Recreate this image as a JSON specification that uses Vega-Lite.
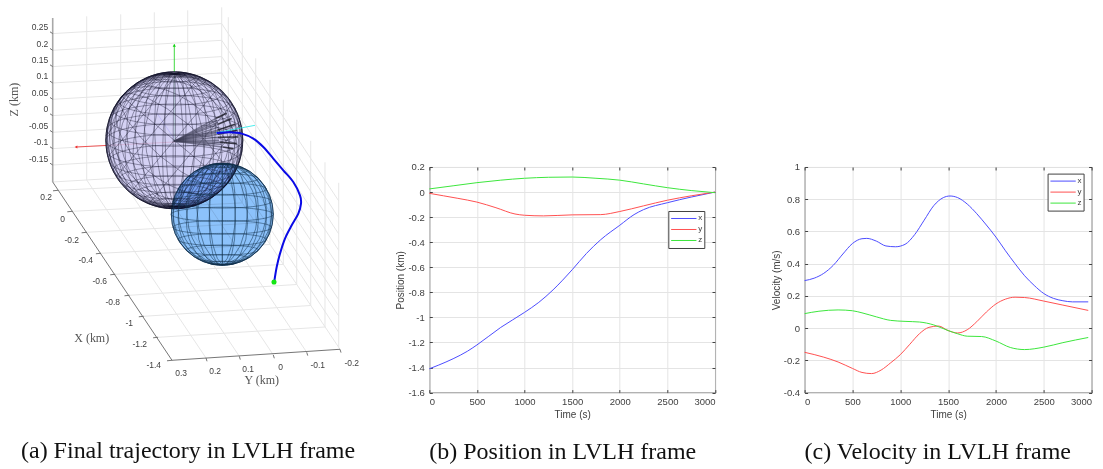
{
"$schema":"https://vega.github.io/schema/vega-lite/v6.json",
"padding":0,
"background":"white",
"bounds":"flush",
"spacing":89.3,
"resolve":{"scale":{"color":"independent"},"legend":{"color":"independent"}},
"config":{"view":{"stroke":null},"font":"Liberation Sans",
 "axis":{"grid":true,"gridColor":"#e4e4e4","gridWidth":1,"domain":false,"tickColor":"#404040","tickSize":-3,"labelFont":"Liberation Sans","labelFontSize":9.5,"labelColor":"#404040","labelPadding":7,"titleFont":"Liberation Sans","titleFontSize":10,"titleColor":"#404040","titleFontWeight":"normal"}},
"datasets":{
"position":[
{"t":0,"s":"x","v":-1.41},{"t":100,"s":"x","v":-1.38},{"t":250,"s":"x","v":-1.33},{"t":400,"s":"x","v":-1.27},{"t":500,"s":"x","v":-1.22},{"t":750,"s":"x","v":-1.08},{"t":1000,"s":"x","v":-0.96},{"t":1150,"s":"x","v":-0.88},{"t":1300,"s":"x","v":-0.78},{"t":1500,"s":"x","v":-0.62},{"t":1650,"s":"x","v":-0.49},{"t":1800,"s":"x","v":-0.38},{"t":2000,"s":"x","v":-0.265},{"t":2150,"s":"x","v":-0.18},{"t":2250,"s":"x","v":-0.14},{"t":2500,"s":"x","v":-0.085},{"t":2750,"s":"x","v":-0.04},{"t":3000,"s":"x","v":0},
{"t":0,"s":"y","v":-0.01},{"t":150,"s":"y","v":-0.03},{"t":300,"s":"y","v":-0.05},{"t":500,"s":"y","v":-0.08},{"t":700,"s":"y","v":-0.125},{"t":900,"s":"y","v":-0.175},{"t":1000,"s":"y","v":-0.185},{"t":1200,"s":"y","v":-0.19},{"t":1500,"s":"y","v":-0.182},{"t":1800,"s":"y","v":-0.18},{"t":2000,"s":"y","v":-0.155},{"t":2250,"s":"y","v":-0.11},{"t":2500,"s":"y","v":-0.065},{"t":2750,"s":"y","v":-0.03},{"t":3000,"s":"y","v":0},
{"t":0,"s":"z","v":0.025},{"t":250,"s":"z","v":0.05},{"t":500,"s":"z","v":0.075},{"t":750,"s":"z","v":0.095},{"t":1000,"s":"z","v":0.11},{"t":1250,"s":"z","v":0.118},{"t":1500,"s":"z","v":0.12},{"t":1750,"s":"z","v":0.11},{"t":2000,"s":"z","v":0.095},{"t":2250,"s":"z","v":0.065},{"t":2500,"s":"z","v":0.035},{"t":2750,"s":"z","v":0.012},{"t":3000,"s":"z","v":-0.005}],
"velocity":[
{"t":0,"s":"x","v":0.295},{"t":100,"s":"x","v":0.31},{"t":200,"s":"x","v":0.34},{"t":300,"s":"x","v":0.39},{"t":400,"s":"x","v":0.46},{"t":500,"s":"x","v":0.525},{"t":600,"s":"x","v":0.555},{"t":650,"s":"x","v":0.557},{"t":750,"s":"x","v":0.54},{"t":850,"s":"x","v":0.51},{"t":950,"s":"x","v":0.505},{"t":1050,"s":"x","v":0.52},{"t":1150,"s":"x","v":0.58},{"t":1250,"s":"x","v":0.67},{"t":1350,"s":"x","v":0.76},{"t":1450,"s":"x","v":0.81},{"t":1520,"s":"x","v":0.82},{"t":1600,"s":"x","v":0.81},{"t":1700,"s":"x","v":0.77},{"t":1800,"s":"x","v":0.71},{"t":1900,"s":"x","v":0.64},{"t":2000,"s":"x","v":0.565},{"t":2100,"s":"x","v":0.48},{"t":2200,"s":"x","v":0.4},{"t":2300,"s":"x","v":0.325},{"t":2400,"s":"x","v":0.265},{"t":2500,"s":"x","v":0.215},{"t":2600,"s":"x","v":0.185},{"t":2700,"s":"x","v":0.17},{"t":2800,"s":"x","v":0.163},{"t":2965,"s":"x","v":0.163},
{"t":0,"s":"y","v":-0.15},{"t":200,"s":"y","v":-0.18},{"t":350,"s":"y","v":-0.21},{"t":500,"s":"y","v":-0.25},{"t":600,"s":"y","v":-0.275},{"t":700,"s":"y","v":-0.282},{"t":800,"s":"y","v":-0.26},{"t":900,"s":"y","v":-0.215},{"t":1000,"s":"y","v":-0.165},{"t":1100,"s":"y","v":-0.1},{"t":1200,"s":"y","v":-0.035},{"t":1300,"s":"y","v":0.005},{"t":1400,"s":"y","v":0.013},{"t":1500,"s":"y","v":-0.015},{"t":1600,"s":"y","v":-0.03},{"t":1700,"s":"y","v":-0.01},{"t":1800,"s":"y","v":0.04},{"t":1900,"s":"y","v":0.1},{"t":2000,"s":"y","v":0.15},{"t":2100,"s":"y","v":0.18},{"t":2200,"s":"y","v":0.192},{"t":2300,"s":"y","v":0.19},{"t":2500,"s":"y","v":0.168},{"t":2700,"s":"y","v":0.143},{"t":2965,"s":"y","v":0.11},
{"t":0,"s":"z","v":0.09},{"t":150,"s":"z","v":0.105},{"t":350,"s":"z","v":0.113},{"t":500,"s":"z","v":0.108},{"t":600,"s":"z","v":0.095},{"t":750,"s":"z","v":0.07},{"t":900,"s":"z","v":0.048},{"t":1050,"s":"z","v":0.042},{"t":1200,"s":"z","v":0.038},{"t":1350,"s":"z","v":0.02},{"t":1500,"s":"z","v":-0.015},{"t":1600,"s":"z","v":-0.035},{"t":1700,"s":"z","v":-0.05},{"t":1850,"s":"z","v":-0.052},{"t":2000,"s":"z","v":-0.08},{"t":2150,"s":"z","v":-0.12},{"t":2300,"s":"z","v":-0.133},{"t":2500,"s":"z","v":-0.118},{"t":2700,"s":"z","v":-0.09},{"t":2965,"s":"z","v":-0.058}],
"grid3d":[
{"a":52.7,"b":33.3,"c":221.7,"d":23.3},{"a":52.7,"b":50,"c":221.7,"d":40},{"a":52.7,"b":66.3,"c":221.7,"d":56.3},{"a":52.7,"b":82.7,"c":221.7,"d":72.7},{"a":52.7,"b":99,"c":221.7,"d":89},{"a":52.7,"b":115.3,"c":221.7,"d":105.3},{"a":52.7,"b":132,"c":221.7,"d":122},{"a":52.7,"b":148.3,"c":221.7,"d":138.3},{"a":52.7,"b":164.7,"c":221.7,"d":154.7},
{"a":221.7,"b":23.3,"c":338.7,"d":200.6},{"a":221.7,"b":40,"c":338.7,"d":217.3},{"a":221.7,"b":56.3,"c":338.7,"d":233.6},{"a":221.7,"b":72.7,"c":338.7,"d":250},{"a":221.7,"b":89,"c":338.7,"d":266.3},{"a":221.7,"b":105.3,"c":338.7,"d":282.6},{"a":221.7,"b":122,"c":338.7,"d":299.3},{"a":221.7,"b":138.3,"c":338.7,"d":315.6},{"a":221.7,"b":154.7,"c":338.7,"d":332},
{"a":86.7,"b":16,"c":86.7,"d":179.7},{"a":120.7,"b":14,"c":120.7,"d":177.7},{"a":154.3,"b":12,"c":154.3,"d":175.7},{"a":187.7,"b":10,"c":187.7,"d":173.7},{"a":221.7,"b":7,"c":221.7,"d":171.7},
{"a":228.3,"b":16.9,"c":228.3,"d":181.6},{"a":242.3,"b":37.9,"c":242.3,"d":202.6},{"a":255.7,"b":58,"c":255.7,"d":222.7},{"a":270,"b":79.5,"c":270,"d":244.2},{"a":283.3,"b":99.4,"c":283.3,"d":264.1},{"a":296.7,"b":119.5,"c":296.7,"d":284.2},{"a":310.7,"b":140.5,"c":310.7,"d":305.2},{"a":325,"b":162,"c":325,"d":326.7},{"a":338.7,"b":182.5,"c":338.7,"d":347.2},
{"a":58,"b":190,"c":228.3,"d":181.6},{"a":72.3,"b":211,"c":242.3,"d":202.6},{"a":86.6,"b":232,"c":255.7,"d":222.7},{"a":100.9,"b":253,"c":270,"d":244.2},{"a":115.2,"b":274,"c":283.3,"d":264.1},{"a":129.5,"b":295,"c":296.7,"d":284.2},{"a":143.8,"b":316,"c":310.7,"d":305.2},{"a":158.1,"b":337,"c":325,"d":326.7},
{"a":86.7,"b":179.7,"c":206,"d":357.7},{"a":120.7,"b":177.7,"c":239.3,"d":356},{"a":154.3,"b":175.7,"c":273.3,"d":354.7},{"a":187.7,"b":173.7,"c":306.7,"d":352},{"a":221.7,"b":171.7,"c":340,"d":349},{"a":52.7,"b":181.7,"c":221.7,"d":171.7}],
"axes3d":[
{"a":52.7,"b":181.7,"c":172,"d":360},{"a":172,"b":360,"c":340,"d":349},
{"a":58,"b":190,"c":53,"d":190.5},{"a":72.3,"b":211,"c":67.3,"d":211.5},{"a":86.6,"b":232,"c":81.6,"d":232.5},{"a":100.9,"b":253,"c":95.9,"d":253.5},{"a":115.2,"b":274,"c":110.2,"d":274.5},{"a":129.5,"b":295,"c":124.5,"d":295.5},{"a":143.8,"b":316,"c":138.8,"d":316.5},{"a":158.1,"b":337,"c":153.1,"d":337.5},{"a":172,"b":360,"c":167,"d":360.5},
{"a":206,"b":357.7,"c":207,"d":361},{"a":239.3,"b":356,"c":240.3,"d":359.3},{"a":273.3,"b":354.7,"c":274.3,"d":358},{"a":306.7,"b":352,"c":307.7,"d":355.3},{"a":340,"b":349,"c":341,"d":352.3},
{"a":50,"b":31.5,"c":52.7,"d":33.3},{"a":50,"b":48.2,"c":52.7,"d":50},{"a":50,"b":64.5,"c":52.7,"d":66.3},{"a":50,"b":80.9,"c":52.7,"d":82.7},{"a":50,"b":97.2,"c":52.7,"d":99},{"a":50,"b":113.5,"c":52.7,"d":115.3},{"a":50,"b":130.2,"c":52.7,"d":132},{"a":50,"b":146.5,"c":52.7,"d":148.3},{"a":50,"b":162.9,"c":52.7,"d":164.7}],
"zaxis3d":[{"a":52.7,"b":17.7,"c":52.7,"d":181.7}],
"frameLabels":[
{"a":48.3,"b":26.7,"l":"0.25"},{"a":48.3,"b":43.3,"l":"0.2"},{"a":48.3,"b":60,"l":"0.15"},{"a":48.3,"b":76,"l":"0.1"},{"a":48.3,"b":92.7,"l":"0.05"},{"a":48.3,"b":109,"l":"0"},{"a":48.3,"b":125.7,"l":"-0.05"},{"a":48.3,"b":141.7,"l":"-0.1"},{"a":48.3,"b":158.3,"l":"-0.15"},
{"a":52,"b":197,"l":"0.2"},{"a":65,"b":218.3,"l":"0"},{"a":79,"b":239.3,"l":"-0.2"},{"a":93,"b":260,"l":"-0.4"},{"a":107,"b":281,"l":"-0.6"},{"a":120,"b":301.7,"l":"-0.8"},{"a":133,"b":322.7,"l":"-1"},{"a":147,"b":343.3,"l":"-1.2"},{"a":161,"b":364.7,"l":"-1.4"},
{"a":187,"b":373,"l":"0.3"},{"a":221,"b":371,"l":"0.2"},{"a":254,"b":369,"l":"0.1"},{"a":283,"b":367,"l":"0"},{"a":325,"b":365,"l":"-0.1"},{"a":359,"b":363,"l":"-0.2"}],
"axisTitles":[{"a":91.7,"b":338,"l":"X (km)"},{"a":261.7,"b":380,"l":"Y (km)"}],
"zTitle":[{"a":14,"b":99.3,"l":"Z (km)"}],
"caption":[{"a":21,"b":451,"l":"(a)  Final trajectory in LVLH frame"}],
"corner":[{"a":0,"b":0}],
"redAxis":[{"a":175,"b":141.7,"c":76,"d":146.7}],
"greenAxis":[{"a":174.3,"b":140,"c":174.3,"d":44}],
"blueAxis":[{"a":174,"b":138,"c":157,"d":113}],
"cyanAxis":[{"a":216,"b":132.5,"c":255,"d":125}],
"redTip":[{"a":76,"b":146.7}],
"greenTip":[{"a":174.3,"b":45}],
"sphereA":[{"a":174.3,"b":140}],
"sphereB":[{"a":222.3,"b":214}],
"fan":[
{"a":174,"b":141,"c":216,"d":118},{"a":174,"b":141,"c":217,"d":120},{"a":174,"b":141,"c":218,"d":122},{"a":174,"b":141,"c":218,"d":124},{"a":174,"b":141,"c":218,"d":127},{"a":174,"b":141,"c":217.3,"d":130},{"a":174,"b":141,"c":218,"d":132},{"a":174,"b":141,"c":218,"d":134},{"a":174,"b":141,"c":218,"d":137},{"a":174,"b":141,"c":219,"d":140},{"a":174,"b":141,"c":220,"d":142},{"a":174,"b":141,"c":221,"d":144},{"a":174,"b":141,"c":222.7,"d":146.7}],
"stripes":[
{"a":216,"b":118,"c":226.7,"d":113},{"a":218,"b":124,"c":231.7,"d":118.3},{"a":217.3,"b":130,"c":235,"d":124},{"a":218,"b":134,"c":237.3,"d":130},{"a":218,"b":137,"c":238.3,"d":136.7},{"a":220,"b":142,"c":236.7,"d":143.3},{"a":222.7,"b":146.7,"c":233.3,"d":148.3}],
"trajectory":[
{"i":0,"a":216.7,"b":132.7},{"i":1,"a":230,"b":132},{"i":2,"a":241.7,"b":133.3},{"i":3,"a":253.3,"b":138.3},{"i":4,"a":263.3,"b":146.7},{"i":5,"a":273.3,"b":158.3},{"i":6,"a":283.3,"b":170},{"i":7,"a":293.3,"b":181.7},{"i":8,"a":300,"b":195},{"i":9,"a":301,"b":203.3},{"i":10,"a":298.3,"b":213.3},{"i":11,"a":291.7,"b":225},{"i":12,"a":285,"b":238.3},{"i":13,"a":280,"b":253.3},{"i":14,"a":276.7,"b":266.7},{"i":15,"a":274.3,"b":281}],
"endPoint":[{"a":274,"b":281.7}]
},
"hconcat":[
{"width":340,"height":225.6,
 "encoding":{"x":{"field":"a","type":"quantitative","scale":{"domain":[0,340]},"axis":null},"y":{"field":"b","type":"quantitative","scale":{"domain":[392.3,166.7]},"axis":null}},
 "layer":[
  {"data":{"name":"corner"},"mark":{"type":"circle","opacity":0,"size":0,"strokeWidth":0}},
  {"data":{"name":"grid3d"},"mark":{"type":"rule","color":"#e6e6e6","strokeWidth":1},"encoding":{"x2":{"field":"c"},"y2":{"field":"d"}}},
  {"data":{"name":"zaxis3d"},"mark":{"type":"rule","color":"#a8a8a8","strokeWidth":1.6},"encoding":{"x2":{"field":"c"},"y2":{"field":"d"}}},
  {"data":{"name":"axes3d"},"mark":{"type":"rule","color":"#666666","strokeWidth":0.9},"encoding":{"x2":{"field":"c"},"y2":{"field":"d"}}},
  {"data":{"name":"frameLabels"},"mark":{"type":"text","font":"Liberation Sans","fontSize":8.5,"color":"#404040","align":"right","baseline":"middle"},"encoding":{"text":{"field":"l"}}},
  {"data":{"name":"axisTitles"},"mark":{"type":"text","font":"Liberation Serif","fontSize":12,"color":"#555555","align":"center","baseline":"middle"},"encoding":{"text":{"field":"l"}}},
  {"data":{"name":"zTitle"},"mark":{"type":"text","font":"Liberation Serif","fontSize":12,"color":"#555555","align":"center","baseline":"middle","angle":270},"encoding":{"text":{"field":"l"}}},
  {"data":{"name":"caption"},"mark":{"type":"text","font":"Liberation Serif","fontSize":24,"color":"#111111","align":"left","baseline":"middle"},"encoding":{"text":{"field":"l"}}},
  {"data":{"name":"redAxis"},"mark":{"type":"rule","color":"#f03030","strokeWidth":0.8},"encoding":{"x2":{"field":"c"},"y2":{"field":"d"}}},
  {"data":{"name":"greenAxis"},"mark":{"type":"rule","color":"#10d010","strokeWidth":0.8},"encoding":{"x2":{"field":"c"},"y2":{"field":"d"}}},
  {"data":{"name":"redTip"},"mark":{"type":"point","shape":"triangle-left","filled":true,"color":"#f03030","size":10,"opacity":1}},
  {"data":{"name":"greenTip"},"mark":{"type":"point","shape":"triangle-up","filled":true,"color":"#10d010","size":10,"opacity":1}},
  {"data":{"name":"blueAxis"},"mark":{"type":"rule","color":"#5050ff","strokeWidth":0.8},"encoding":{"x2":{"field":"c"},"y2":{"field":"d"}}},
  {"data":{"name":"sphereA"},"mark":{"type":"circle","fill":"#cdc9f2","fillOpacity":0.85,"stroke":"#14142c","strokeWidth":0.8,"size":18769}},
  {"data":{"graticule":{"step":[9,9]}},"mark":{"type":"geoshape","filled":false,"clip":false,"stroke":"#14142c","strokeWidth":0.5,"strokeOpacity":0.8},"projection":{"type":"orthographic","scale":68.5,"translate":[174.3,-26.7],"rotate":[8,-14,0],"clipAngle":179.9},"encoding":{"x":null,"y":null}},
  {"data":{"graticule":{"step":[18,18]}},"mark":{"type":"geoshape","filled":false,"clip":false,"stroke":"#14142c","strokeWidth":0.4,"strokeOpacity":0.55},"projection":{"type":"orthographic","scale":68.5,"translate":[174.3,-26.7],"rotate":[0,0,50],"clipAngle":179.9},"encoding":{"x":null,"y":null}},
  {"data":{"name":"fan"},"mark":{"type":"rule","color":"#3d3d55","strokeWidth":1.4,"opacity":0.6},"encoding":{"x2":{"field":"c"},"y2":{"field":"d"}}},
  {"data":{"name":"stripes"},"mark":{"type":"rule","color":"#20202a","strokeWidth":1.6,"opacity":0.85},"encoding":{"x2":{"field":"c"},"y2":{"field":"d"}}},
  {"data":{"name":"cyanAxis"},"mark":{"type":"rule","color":"#20e8e8","strokeWidth":0.8},"encoding":{"x2":{"field":"c"},"y2":{"field":"d"}}},
  {"data":{"name":"sphereB"},"mark":{"type":"circle","fill":"#8cc2fb","fillOpacity":1,"stroke":"#1c3c5c","strokeWidth":0.8,"size":10404,"blend":"multiply"}},
  {"data":{"graticule":{"step":[15,15]}},"mark":{"type":"geoshape","filled":false,"clip":false,"stroke":"#12304c","strokeWidth":0.65,"strokeOpacity":0.8},"projection":{"type":"orthographic","scale":51,"translate":[222.3,47.3],"rotate":[0,-8,0],"clipAngle":179.9},"encoding":{"x":null,"y":null}},
  {"data":{"name":"trajectory"},"mark":{"type":"line","color":"#0a0ae6","strokeWidth":2,"interpolate":"cardinal"},"encoding":{"order":{"field":"i","type":"quantitative"}}},
  {"data":{"name":"endPoint"},"mark":{"type":"circle","color":"#14e614","size":26,"opacity":1}}
 ]
},
{"width":285.7,"height":225.6,"view":{"stroke":"#404040"},
  "title":{"text":"(b) Position in LVLH frame","orient":"bottom","anchor":"start","frame":"group","offset":21,"font":"Liberation Serif","fontSize":24,"fontWeight":"normal","color":"#111111"},
  "data":{"name":"position"},
  "resolve":{"axis":{"x":"independent","y":"independent"}},
  "layer":[
   {"mark":{"type":"line","strokeWidth":1,"interpolate":"monotone"},
    "encoding":{"x":{"field":"t","type":"quantitative","scale":{"domain":[0,3000]},"axis":{"values":[0,500,1000,1500,2000,2500,3000],"labelExpr":"''+datum.value","title":"Time (s)","titlePadding":3}},
     "y":{"field":"v","type":"quantitative","scale":{"domain":[-1.6,0.2]},"axis":{"values":[-1.6,-1.4,-1.2,-1,-0.8,-0.6,-0.4,-0.2,0,0.2],"labelExpr":"''+datum.value","labelPadding":8,"title":"Position (km)","titlePadding":2}},
     "color":{"field":"s","type":"nominal","scale":{"domain":["x","y","z"],"range":["#4c4cff","#ff5050","#3ce63c"]},"legend":{"orient":"none","legendX":239,"legendY":44,"title":null,"fillColor":"white","strokeColor":"#404040","padding":2,"symbolType":"stroke","symbolSize":640,"symbolStrokeWidth":1,"labelFontSize":8,"labelFont":"Liberation Sans","labelColor":"#404040","labelOffset":1,"clipHeight":11,"rowPadding":0}}}},
   {"mark":{"type":"line","opacity":0},
    "encoding":{"x":{"field":"t","type":"quantitative","scale":{"domain":[0,3000]},"axis":{"orient":"top","values":[0,500,1000,1500,2000,2500,3000],"labels":false,"grid":false,"title":null}},
     "y":{"field":"v","type":"quantitative","scale":{"domain":[-1.6,0.2]},"axis":{"orient":"right","values":[-1.6,-1.4,-1.2,-1,-0.8,-0.6,-0.4,-0.2,0,0.2],"labels":false,"grid":false,"title":null}},"detail":{"field":"s"}}}
  ]},
{"width":287,"height":225.6,"view":{"stroke":"#404040"},
  "title":{"text":"(c) Velocity in LVLH frame","orient":"bottom","anchor":"start","frame":"group","offset":21,"font":"Liberation Serif","fontSize":24,"fontWeight":"normal","color":"#111111"},
  "data":{"name":"velocity"},
  "resolve":{"axis":{"x":"independent","y":"independent"}},
  "layer":[
   {"mark":{"type":"line","strokeWidth":1,"interpolate":"monotone"},
    "encoding":{"x":{"field":"t","type":"quantitative","scale":{"domain":[0,3000]},"axis":{"values":[0,500,1000,1500,2000,2500,3000],"labelExpr":"''+datum.value","title":"Time (s)","titlePadding":3}},
     "y":{"field":"v","type":"quantitative","scale":{"domain":[-0.4,1]},"axis":{"values":[-0.4,-0.2,0,0.2,0.4,0.6,0.8,1],"labelExpr":"''+datum.value","labelPadding":8,"title":"Velocity (m/s)","titlePadding":2}},
     "color":{"field":"s","type":"nominal","scale":{"domain":["x","y","z"],"range":["#4c4cff","#ff5050","#3ce63c"]},"legend":{"orient":"none","legendX":243,"legendY":6.6,"title":null,"fillColor":"white","strokeColor":"#404040","padding":2,"symbolType":"stroke","symbolSize":640,"symbolStrokeWidth":1,"labelFontSize":8,"labelFont":"Liberation Sans","labelColor":"#404040","labelOffset":1,"clipHeight":11,"rowPadding":0}}}},
   {"mark":{"type":"line","opacity":0},
    "encoding":{"x":{"field":"t","type":"quantitative","scale":{"domain":[0,3000]},"axis":{"orient":"top","values":[0,500,1000,1500,2000,2500,3000],"labels":false,"grid":false,"title":null}},
     "y":{"field":"v","type":"quantitative","scale":{"domain":[-0.4,1]},"axis":{"orient":"right","values":[-0.4,-0.2,0,0.2,0.4,0.6,0.8,1],"labels":false,"grid":false,"title":null}},"detail":{"field":"s"}}}
  ]}
]}
